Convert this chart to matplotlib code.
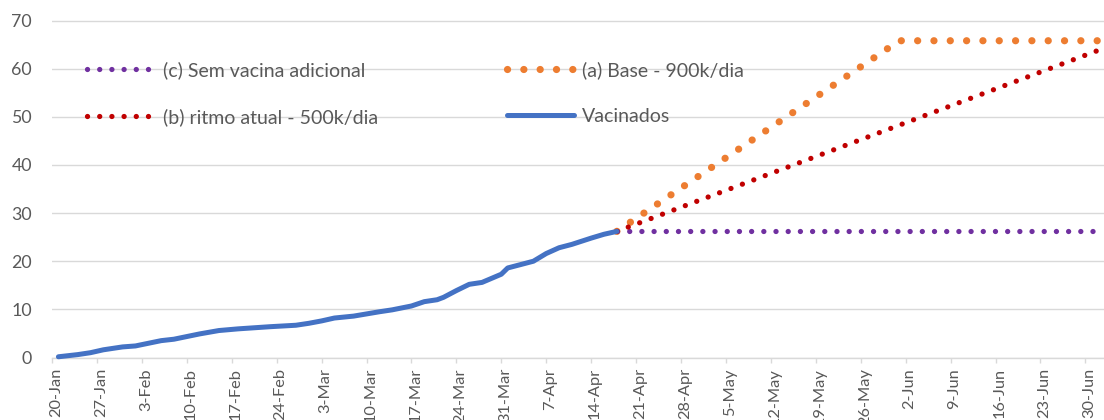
import matplotlib
matplotlib.use('Agg')
import matplotlib.pyplot as plt
import matplotlib.dates as mdates
import matplotlib.transforms as mtrans
import pandas as pd

# vacinados
vac_dates = ['2021-01-21', '2021-01-24', '2021-01-26', '2021-01-28', '2021-01-31',
             '2021-02-02', '2021-02-06', '2021-02-08', '2021-02-12', '2021-02-15',
             '2021-02-18', '2021-02-23', '2021-02-27', '2021-03-01', '2021-03-03',
             '2021-03-05', '2021-03-08', '2021-03-12', '2021-03-14', '2021-03-17',
             '2021-03-19', '2021-03-21', '2021-03-22', '2021-03-24', '2021-03-26',
             '2021-03-28', '2021-03-31', '2021-04-01', '2021-04-03', '2021-04-05',
             '2021-04-07', '2021-04-09', '2021-04-11', '2021-04-14', '2021-04-16',
             '2021-04-18']
vac_values = [0.15, 0.6, 1.0, 1.6, 2.2,
              2.4, 3.5, 3.8, 4.9, 5.6,
              5.95, 6.4, 6.7, 7.1, 7.6,
              8.2, 8.6, 9.5, 9.9, 10.7,
              11.6, 12.0, 12.5, 13.9, 15.2,
              15.6, 17.3, 18.6, 19.3, 20.0,
              21.6, 22.8, 23.5, 24.8, 25.6,
              26.2]

# cenarios
c_dates = ['2021-04-18', '2021-07-02']
c_values = [26.2, 26.2]
a_dates = ['2021-04-18', '2021-06-01', '2021-07-02']
a_values = [26.2, 65.8, 65.8]
b_dates = ['2021-04-18', '2021-07-02']
b_values = [26.2, 63.8]

labels = ['(c) Sem vacina adicional', '(a) Base - 900k/dia',
          '(b) ritmo atual - 500k/dia', 'Vacinados']

PURPLE = '#7030A0'
ORANGE = '#ED7D31'
RED = '#C00000'
BLUE = '#4472C4'
GRID = '#D9D9D9'
TXT = '#595959'

plt.rcParams['font.family'] = ['Lato', 'DejaVu Sans']
FS_LEG = 14
FS_X = 11.8
FS_Y = 12.8

W, H = 1104, 420
y0_px, px_per = 357.5, 4.814
ytop = 70.3
fig = plt.figure(figsize=(W / 100, H / 100), dpi=100)
ax = fig.add_axes([52 / W, (H - y0_px) / H, (W - 52) / W, ytop * px_per / H])

start = pd.Timestamp('2021-01-20')
ax.set_xlim(start, start + pd.Timedelta(days=163.9))
ax.set_ylim(0, ytop)

to_dt = lambda d: pd.to_datetime(d)

lc, = ax.plot(to_dt(c_dates), c_values, color=PURPLE, lw=3.8,
              linestyle=(0, (0.01, 2.3)), dash_capstyle='round', zorder=3)
la, = ax.plot(to_dt(a_dates), a_values, color=ORANGE, lw=5.2,
              linestyle=(0, (0.01, 2.25)), dash_capstyle='round', zorder=2)
lb, = ax.plot(to_dt(b_dates), b_values, color=RED, lw=3.8,
              linestyle=(0, (0.01, 2.3)), dash_capstyle='round', zorder=3)
lv, = ax.plot(to_dt(vac_dates), vac_values, color=BLUE, lw=3.6,
              solid_capstyle='round', solid_joinstyle='round', zorder=4, clip_on=False)

ax.set_yticks(range(0, 71, 10))
ax.grid(axis='y', color=GRID, lw=1.0, zorder=0)
ax.set_axisbelow(True)
for s in ['top', 'right', 'left']:
    ax.spines[s].set_visible(False)
ax.spines['bottom'].set_color(GRID)
ax.spines['bottom'].set_linewidth(1.0)

ticks = pd.date_range('2021-01-20', '2021-06-30', freq='7D')
ax.set_xticks(ticks)
ax.xaxis.set_major_formatter(mdates.DateFormatter('%-d-%b'))
ax.tick_params(axis='x', length=3.6, width=1.0, color=GRID, pad=4,
               labelsize=FS_X, labelcolor=TXT, labelrotation=90)
ax.tick_params(axis='y', length=0, pad=14.4, labelsize=FS_Y, labelcolor=TXT)
off = mtrans.ScaledTranslation(4 / 100, 0, fig.dpi_scale_trans)
for t in ax.get_xticklabels():
    t.set_transform(t.get_transform() + off)

fs_px = FS_LEG * 100 / 72
leg1 = ax.legend([lc, lb], [labels[0], labels[2]], loc='upper left',
                 bbox_to_anchor=(87 / W, (H - 61) / H), bbox_transform=fig.transFigure,
                 frameon=False, fontsize=FS_LEG, handlelength=64 / fs_px,
                 handletextpad=12 / fs_px, labelspacing=1.5, borderpad=0,
                 borderaxespad=0, labelcolor=TXT)
ax.add_artist(leg1)
ax.legend([la, lv], [labels[1], labels[3]], loc='upper left',
          bbox_to_anchor=(507 / W, (H - 61) / H), bbox_transform=fig.transFigure,
          frameon=False, fontsize=FS_LEG, handlelength=67 / fs_px,
          handletextpad=8 / fs_px, labelspacing=1.5, borderpad=0,
          borderaxespad=0, labelcolor=TXT)

fig.savefig('out.png', dpi=100)
